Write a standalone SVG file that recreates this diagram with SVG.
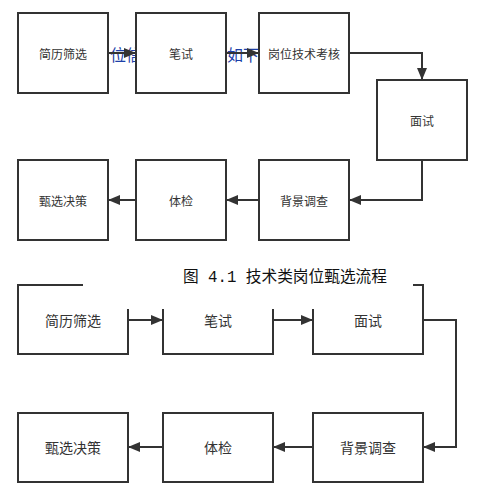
<svg xmlns="http://www.w3.org/2000/svg" width="489" height="485" viewBox="0 0 489 485">
<defs>
<style>
.box{fill:#fff;stroke:#333;stroke-width:2}
.lbl{font-family:"Noto Sans CJK SC","Liberation Sans",sans-serif;fill:#333;text-anchor:middle;dominant-baseline:central}
.t1{font-size:12px}
.t2{font-size:14px}
.ln{fill:none;stroke:#333;stroke-width:2}
.bg{font-family:"Noto Sans CJK SC",sans-serif;font-size:16px;fill:#1c3fa8}
.cap{font-family:"Liberation Mono","Noto Sans CJK SC",monospace;font-size:16px;fill:#111}
</style>
<marker id="ah" viewBox="0 0 12 10" refX="12" refY="5" markerWidth="12" markerHeight="10" markerUnits="userSpaceOnUse" orient="auto">
<path d="M0,0 L12,5 L0,10 Z" fill="#333"/>
</marker>
</defs>
<rect width="489" height="485" fill="#fff"/>
<g id="background-fragments">
<text class="bg" x="110" y="61">位信</text>
<text class="bg" x="227" y="61">如下</text>
</g>
<g id="connectors">
<line class="ln" x1="108" y1="53" x2="136" y2="53" marker-end="url(#ah)"/>
<line class="ln" x1="226" y1="53" x2="259" y2="53" marker-end="url(#ah)"/>
<polyline class="ln" points="349,53 422,53 422,80" marker-end="url(#ah)"/>
<polyline class="ln" points="422,160 422,200 349,200" marker-end="url(#ah)"/>
<line class="ln" x1="259" y1="200" x2="226" y2="200" marker-end="url(#ah)"/>
<line class="ln" x1="136" y1="200" x2="108" y2="200" marker-end="url(#ah)"/>
<line class="ln" x1="128" y1="320" x2="163" y2="320" marker-end="url(#ah)"/>
<line class="ln" x1="273" y1="320" x2="313" y2="320" marker-end="url(#ah)"/>
<polyline class="ln" points="423,320 456,320 456,447 423,447" marker-end="url(#ah)"/>
<line class="ln" x1="313" y1="447" x2="273" y2="447" marker-end="url(#ah)"/>
<line class="ln" x1="163" y1="447" x2="128" y2="447" marker-end="url(#ah)"/>
</g>
<g id="n1"><rect class="box" x="18" y="13" width="90" height="80"/><text class="lbl t1" x="63" y="53">简历筛选</text></g>
<g id="n2"><rect class="box" x="136" y="13" width="90" height="80"/><text class="lbl t1" x="181" y="53">笔试</text></g>
<g id="n3"><rect class="box" x="259" y="13" width="90" height="80"/><text class="lbl t1" x="304" y="53">岗位技术考核</text></g>
<g id="n4"><rect class="box" x="377" y="80" width="90" height="80"/><text class="lbl t1" x="422" y="120">面试</text></g>
<g id="n5"><rect class="box" x="259" y="160" width="90" height="80"/><text class="lbl t1" x="304" y="200">背景调查</text></g>
<g id="n6"><rect class="box" x="136" y="160" width="90" height="80"/><text class="lbl t1" x="181" y="200">体检</text></g>
<g id="n7"><rect class="box" x="18" y="160" width="90" height="80"/><text class="lbl t1" x="63" y="200">甄选决策</text></g>
<g id="m1"><rect class="box" x="18" y="285" width="110" height="69"/><text class="lbl t2" x="73" y="320">简历筛选</text></g>
<g id="m2"><rect class="box" x="163" y="285" width="110" height="69"/><text class="lbl t2" x="218" y="320">笔试</text></g>
<g id="m3"><rect class="box" x="313" y="285" width="110" height="69"/><text class="lbl t2" x="368" y="320">面试</text></g>
<g id="m4"><rect class="box" x="313" y="413" width="110" height="69"/><text class="lbl t2" x="368" y="447">背景调查</text></g>
<g id="m5"><rect class="box" x="163" y="413" width="110" height="69"/><text class="lbl t2" x="218" y="447">体检</text></g>
<g id="m6"><rect class="box" x="18" y="413" width="110" height="69"/><text class="lbl t2" x="73" y="447">甄选决策</text></g>
<g id="caption">
<rect x="83" y="250" width="330" height="59" fill="#fff"/>
<text class="cap" x="183" y="282" textLength="204" lengthAdjust="spacingAndGlyphs">图 4.1 技术类岗位甄选流程</text>
</g>
</svg>
